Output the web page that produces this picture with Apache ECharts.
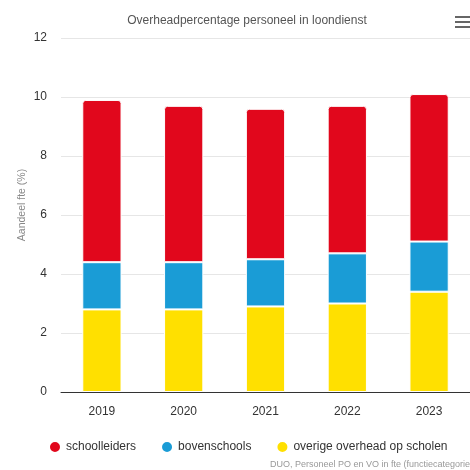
<!DOCTYPE html>
<html>
<head>
<meta charset="utf-8">
<script src="https://cdn.jsdelivr.net/npm/echarts@6/dist/echarts.min.js"></script>
<style>
  html, body { margin: 0; padding: 0; background: #fff; }
  #chart { width: 470px; height: 470px; }
</style>
</head>
<body>
<div id="chart"></div>
<script>
const years = ['2019', '2020', '2021', '2022', '2023'];
const overigeOverhead = [2.8, 2.8, 2.9, 3.0, 3.4];
const bovenschools = [1.6, 1.6, 1.6, 1.7, 1.7];
const schoolleiders = [5.5, 5.3, 5.1, 5.0, 5.0];

const chart = echarts.init(document.getElementById('chart'));

const font = 'Helvetica, Arial, "Liberation Sans", sans-serif';

const options = {
  animation: false,
  textStyle: { fontFamily: font },
  title: {
    text: 'Overheadpercentage personeel in loondienst',
    left: 242,
    top: 10,
    textAlign: 'center',
    textStyle: { fontSize: 12, fontWeight: 'normal', color: '#555', fontFamily: font }
  },
  grid: { left: 61, right: -5, top: 38, bottom: 78 },
  legend: {
    top: 435,
    left: 43,
    itemWidth: 12,
    itemHeight: 12,
    itemGap: 24,
    icon: 'circle',
    textStyle: { fontSize: 12, color: '#333', fontFamily: font },
    data: ['schoolleiders', 'bovenschools', 'overige overhead op scholen']
  },
  xAxis: {
    type: 'category',
    data: years,
    axisTick: { show: false },
    axisLine: { lineStyle: { color: '#333' } },
    axisLabel: { color: '#333', fontSize: 12, margin: 14 }
  },
  yAxis: {
    type: 'value',
    min: 0,
    max: 12,
    interval: 2,
    axisLabel: { color: '#333', fontSize: 12, margin: 14 },
    splitLine: { lineStyle: { color: '#e6e6e6' } }
  },
  series: [
    {
      name: 'overige overhead op scholen',
      type: 'bar',
      stack: 'fte',
      barWidth: '48%',
      data: overigeOverhead,
      itemStyle: { color: '#ffe000', borderColor: '#fff', borderWidth: 1 }
    },
    {
      name: 'bovenschools',
      type: 'bar',
      stack: 'fte',
      data: bovenschools,
      itemStyle: { color: '#1a9cd6', borderColor: '#fff', borderWidth: 1 }
    },
    {
      name: 'schoolleiders',
      type: 'bar',
      stack: 'fte',
      data: schoolleiders,
      itemStyle: { color: '#e1071c', borderColor: '#fff', borderWidth: 1, borderRadius: [3, 3, 0, 0] }
    }
  ],
  graphic: [
    {
      // y-axis title
      type: 'text',
      x: 22,
      y: 205,
      rotation: Math.PI / 2,
      style: {
        text: 'Aandeel fte (%)',
        fill: '#888',
        fontSize: 10.5,
        fontFamily: font,
        align: 'center',
        verticalAlign: 'middle'
      }
    },
    {
      type: 'group',
      left: 455,
      top: 16,
      children: [
        { type: 'rect', shape: { x: 0, y: 0, width: 15, height: 2 }, style: { fill: '#666' } },
        { type: 'rect', shape: { x: 0, y: 5, width: 15, height: 2 }, style: { fill: '#666' } },
        { type: 'rect', shape: { x: 0, y: 10, width: 15, height: 2 }, style: { fill: '#666' } }
      ]
    },
    {
      type: 'text',
      left: 270,
      top: 460,
      style: {
        text: 'DUO, Personeel PO en VO in fte (functiecategorie)',
        fill: '#999',
        fontSize: 9,
        fontFamily: font
      }
    }
  ]
};

chart.setOption(options);
</script>
</body>
</html>
